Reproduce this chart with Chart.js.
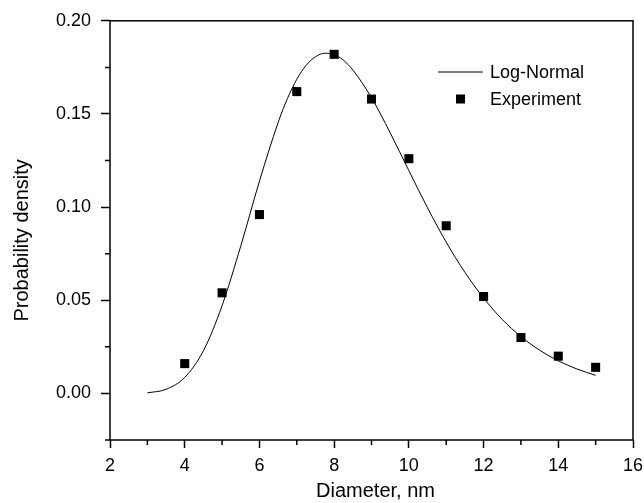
<!DOCTYPE html>
<html>
<head>
<meta charset="utf-8">
<script src="https://cdn.jsdelivr.net/npm/chart.js@4"></script>
<style>
  body { margin: 0; background: #fff; }
  canvas { display: block; }
</style>
</head>
<body>
<canvas id="chart" width="644" height="503"></canvas>
<script>
// experiment points
const diameters = [4, 5, 6, 7, 8, 9, 10, 11, 12, 13, 14, 15];
const experiment = [0.016, 0.054, 0.096, 0.162, 0.182, 0.158, 0.126, 0.090, 0.052, 0.030, 0.020, 0.014];

// log-normal fit curve
const curveX = [3, 3.5, 4, 4.5, 5, 5.5, 6, 6.5, 6.75, 7, 7.25, 7.5, 7.75, 8, 8.25, 8.5, 9, 9.5, 10, 10.5, 11, 11.5, 12, 12.5, 13, 13.5, 14, 14.5, 15];
const curveY = [0.0003, 0.0022, 0.0086, 0.0229, 0.0471, 0.0791, 0.1139, 0.1454, 0.1583, 0.1686, 0.1761, 0.1807, 0.1826, 0.1819, 0.1788, 0.1736, 0.1587, 0.1399, 0.1196, 0.0996, 0.0812, 0.0650, 0.0512, 0.0397, 0.0305, 0.0232, 0.0175, 0.0131, 0.0097];

const xTicks = [2, 4, 6, 8, 10, 12, 14, 16];
const yTicks = [0.00, 0.05, 0.10, 0.15, 0.20];

const xTitle = 'Diameter, nm';
const yTitle = 'Probability density';

const FONT = "'Liberation Sans', Arial, sans-serif";

// frame, minor ticks, axis titles and legend drawn on top
const framePlugin = {
  id: 'frame',
  afterDraw(chart) {
    const ctx = chart.ctx;
    const a = chart.chartArea;
    const xs = chart.scales.x, ys = chart.scales.y;
    const o = chart.options.plugins.frame;
    ctx.save();
    ctx.strokeStyle = '#000';
    ctx.lineWidth = 1.5;
    ctx.strokeRect(a.left, a.top, a.right - a.left, a.bottom - a.top);

    // minor ticks halfway between majors
    ctx.beginPath();
    for (let i = 0; i < xTicks.length - 1; i++) {
      const px = xs.getPixelForValue((xTicks[i] + xTicks[i + 1]) / 2);
      ctx.moveTo(px, a.bottom);
      ctx.lineTo(px, a.bottom + 5);
    }
    const yMinor = [-0.025].concat(yTicks.slice(0, -1).map((v, i) => (v + yTicks[i + 1]) / 2));
    yMinor.forEach(v => {
      const py = ys.getPixelForValue(v);
      ctx.moveTo(a.left, py);
      ctx.lineTo(a.left - 5, py);
    });
    ctx.stroke();

    // axis titles
    ctx.fillStyle = '#000';
    ctx.font = '20px ' + FONT;
    ctx.textAlign = 'center';
    ctx.textBaseline = 'alphabetic';
    ctx.fillText(xTitle, (a.left + a.right) / 2 + 4, o.xTitleY);
    ctx.save();
    ctx.translate(o.yTitleX, (a.top + a.bottom) / 2 + 10);
    ctx.rotate(-Math.PI / 2);
    ctx.fillText(yTitle, 0, 0);
    ctx.restore();

    // legend
    ctx.font = '18px ' + FONT;
    ctx.textAlign = 'left';
    ctx.textBaseline = 'middle';
    chart.data.datasets.forEach((ds, i) => {
      const y = o.y + i * o.gap;
      if (ds.showLine) {
        ctx.lineWidth = 1;
        ctx.beginPath();
        ctx.moveTo(o.x, y);
        ctx.lineTo(o.x + o.len, y);
        ctx.stroke();
      } else {
        ctx.fillRect(o.x + o.len / 2 - 4.5, y - 4.5, 9, 9);
      }
      ctx.fillText(ds.label, o.x + o.len + 7, y + 1);
    });
    ctx.restore();
  }
};

new Chart(document.getElementById('chart'), {
  type: 'scatter',
  data: {
    datasets: [
      {
        label: 'Log-Normal',
        data: curveX.map((x, i) => ({ x: x, y: curveY[i] })),
        showLine: true,
        borderColor: '#000',
        borderWidth: 1,
        pointRadius: 0,
        cubicInterpolationMode: 'monotone',
        clip: false
      },
      {
        label: 'Experiment',
        data: diameters.map((x, i) => ({ x: x, y: experiment[i] })),
        showLine: false,
        pointStyle: 'rect',
        pointRadius: 6.4,
        pointBorderWidth: 0,
        backgroundColor: '#000',
        borderColor: '#000',
        clip: false
      }
    ]
  },
  options: {
    responsive: false,
    animation: false,
    layout: { padding: { top: 19, right: 11, left: 0, bottom: 0 } },
    plugins: {
      legend: { display: false },
      tooltip: { enabled: false },
      frame: { x: 438, y: 72, gap: 27, len: 45, xTitleY: 497, yTitleX: 28 }
    },
    scales: {
      x: {
        type: 'linear',
        min: 2,
        max: 16,
        afterFit(s) { s.height = 63; s.paddingLeft = 0; s.paddingRight = 0; },
        border: { display: false },
        grid: { drawOnChartArea: false, tickLength: 8, tickColor: '#000', tickWidth: 1.5 },
        afterBuildTicks(s) { s.ticks = xTicks.map(v => ({ value: v })); },
        ticks: {
          color: '#000',
          padding: 7,
          maxRotation: 0,
          font: { family: FONT, size: 18 },
          callback: v => String(v)
        },
        title: { display: false }
      },
      y: {
        type: 'linear',
        min: -0.025,
        max: 0.20,
        afterFit(s) { s.width = 110; },
        border: { display: false },
        grid: { drawOnChartArea: false, tickLength: 9, tickColor: '#000', tickWidth: 1.5 },
        afterBuildTicks(s) { s.ticks = yTicks.map(v => ({ value: v })); },
        ticks: {
          color: '#000',
          padding: 10,
          font: { family: FONT, size: 18 },
          callback: v => Number(v).toFixed(2)
        },
        title: { display: false }
      }
    }
  },
  plugins: [framePlugin]
});
</script>
</body>
</html>
